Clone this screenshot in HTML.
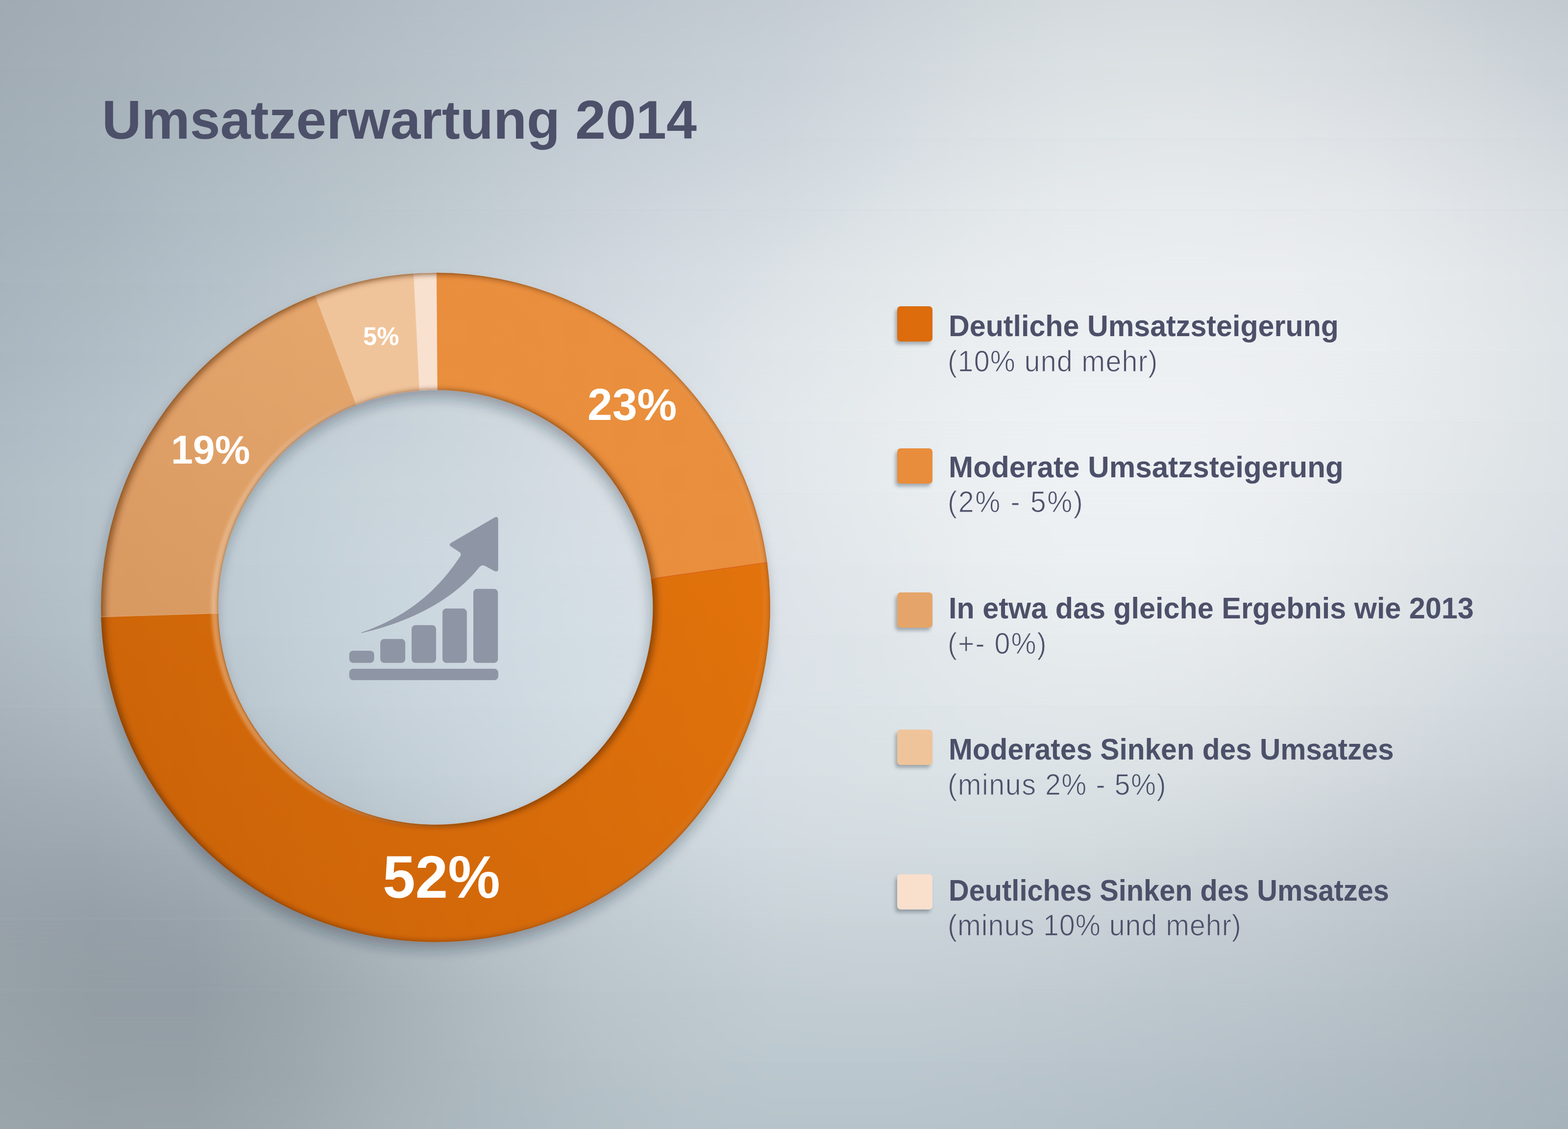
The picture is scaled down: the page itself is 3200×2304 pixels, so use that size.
<!DOCTYPE html>
<html><head><meta charset="utf-8">
<style>
html,body{margin:0;padding:0;}
body{width:3200px;height:2304px;overflow:hidden;position:relative;font-family:"Liberation Sans",Arial,sans-serif;background:#b8c3cb;}
#bg{position:absolute;left:0;top:0;width:3200px;height:2304px;overflow:hidden;filter:blur(1.5px);transform:scale(1.005);}
.bb{position:absolute;left:0;width:3200px;}.bm{-webkit-mask-image:linear-gradient(180deg,transparent,#000);mask-image:linear-gradient(180deg,transparent,#000);}
.t{position:absolute;white-space:pre;line-height:1;transform-origin:0 0;}
.sq{position:absolute;left:1831px;width:72px;height:72px;border-radius:7px;box-shadow:-4px 6px 7px rgba(50,62,75,0.36);}
</style></head><body>
<div id="bg"><div class="bb" style="top:0px;height:144px;background:linear-gradient(90deg,#9faab3 0.00%,#a3aeb6 6.25%,#a8b3bb 12.50%,#adb7bf 18.75%,#b2bcc4 25.00%,#b7c1c9 31.25%,#bbc5cd 37.50%,#c0c8d0 43.75%,#c4ccd3 50.00%,#cad2d8 56.25%,#d0d7db 62.50%,#d4dade 68.75%,#d5dbde 75.00%,#d3d9dd 81.25%,#cfd5d9 87.50%,#c8cfd4 93.75%,#c2cad0 100.00%)"></div>
<div class="bb bm" style="top:0px;height:144px;background:linear-gradient(90deg,#a1acb5 0.00%,#a5b0b8 6.25%,#aab5bd 12.50%,#afbac2 18.75%,#b5bfc7 25.00%,#bac4cc 31.25%,#c0c9d0 37.50%,#c4cdd4 43.75%,#c9d1d8 50.00%,#d0d7dc 56.25%,#d6dce0 62.50%,#dae0e3 68.75%,#dce1e4 75.00%,#dadfe3 81.25%,#d6dbdf 87.50%,#d0d6da 93.75%,#c9d0d6 100.00%)"></div>
<div class="bb" style="top:144px;height:144px;background:linear-gradient(90deg,#a1acb5 0.00%,#a5b0b8 6.25%,#aab5bd 12.50%,#afbac2 18.75%,#b5bfc7 25.00%,#bac4cc 31.25%,#c0c9d0 37.50%,#c4cdd4 43.75%,#c9d1d8 50.00%,#d0d7dc 56.25%,#d6dce0 62.50%,#dae0e3 68.75%,#dce1e4 75.00%,#dadfe3 81.25%,#d6dbdf 87.50%,#d0d6da 93.75%,#c9d0d6 100.00%)"></div>
<div class="bb bm" style="top:144px;height:144px;background:linear-gradient(90deg,#a3afb7 0.00%,#a7b3bb 6.25%,#acb8c0 12.50%,#b2bdc5 18.75%,#b7c2c9 25.00%,#bec8cf 31.25%,#c4cdd5 37.50%,#c9d2d9 43.75%,#ced6dc 50.00%,#d5dce1 56.25%,#dce1e5 62.50%,#e0e5e8 68.75%,#e2e6e9 75.00%,#e1e5e8 81.25%,#dee2e6 87.50%,#d8dde1 93.75%,#d1d7dc 100.00%)"></div>
<div class="bb" style="top:288px;height:144px;background:linear-gradient(90deg,#a3afb7 0.00%,#a7b3bb 6.25%,#acb8c0 12.50%,#b2bdc5 18.75%,#b7c2c9 25.00%,#bec8cf 31.25%,#c4cdd5 37.50%,#c9d2d9 43.75%,#ced6dc 50.00%,#d5dce1 56.25%,#dce1e5 62.50%,#e0e5e8 68.75%,#e2e6e9 75.00%,#e1e5e8 81.25%,#dee2e6 87.50%,#d8dde1 93.75%,#d1d7dc 100.00%)"></div>
<div class="bb bm" style="top:288px;height:144px;background:linear-gradient(90deg,#a5b1ba 0.00%,#a9b5be 6.25%,#b0bcc4 12.50%,#b5c1c8 18.75%,#bbc6cd 25.00%,#c2ccd3 31.25%,#cad2d9 37.50%,#d0d7dd 43.75%,#d5dce1 50.00%,#dce2e6 56.25%,#e2e7ea 62.50%,#e6eaec 68.75%,#e7ebee 75.00%,#e7eaed 81.25%,#e5e8eb 87.50%,#dfe3e7 93.75%,#d9dee2 100.00%)"></div>
<div class="bb" style="top:432px;height:144px;background:linear-gradient(90deg,#a5b1ba 0.00%,#a9b5be 6.25%,#b0bcc4 12.50%,#b5c1c8 18.75%,#bbc6cd 25.00%,#c2ccd3 31.25%,#cad2d9 37.50%,#d0d7dd 43.75%,#d5dce1 50.00%,#dce2e6 56.25%,#e2e7ea 62.50%,#e6eaec 68.75%,#e7ebee 75.00%,#e7eaed 81.25%,#e5e8eb 87.50%,#dfe3e7 93.75%,#d9dee2 100.00%)"></div>
<div class="bb bm" style="top:432px;height:144px;background:linear-gradient(90deg,#a8b4bd 0.00%,#adb9c1 6.25%,#b3bfc8 12.50%,#bac5cd 18.75%,#c0cbd2 25.00%,#c7d0d7 31.25%,#cfd7dd 37.50%,#d5dce2 43.75%,#dce2e6 50.00%,#e2e7ea 56.25%,#e7ebee 62.50%,#eaedf0 68.75%,#ebeef1 75.00%,#ebeef0 81.25%,#e8ecee 87.50%,#e3e7ea 93.75%,#dde2e6 100.00%)"></div>
<div class="bb" style="top:576px;height:144px;background:linear-gradient(90deg,#a8b4bd 0.00%,#adb9c1 6.25%,#b3bfc8 12.50%,#bac5cd 18.75%,#c0cbd2 25.00%,#c7d0d7 31.25%,#cfd7dd 37.50%,#d5dce2 43.75%,#dce2e6 50.00%,#e2e7ea 56.25%,#e7ebee 62.50%,#eaedf0 68.75%,#ebeef1 75.00%,#ebeef0 81.25%,#e8ecee 87.50%,#e3e7ea 93.75%,#dde2e6 100.00%)"></div>
<div class="bb bm" style="top:576px;height:144px;background:linear-gradient(90deg,#aab6bf 0.00%,#b0bcc5 6.25%,#b7c3cb 12.50%,#bec9d1 18.75%,#c4ced5 25.00%,#cbd4db 31.25%,#d3dae1 37.50%,#d9e0e5 43.75%,#e0e5e9 50.00%,#e5eaed 56.25%,#eaeef0 62.50%,#ecf0f2 68.75%,#edf0f3 75.00%,#eceff2 81.25%,#e9edef 87.50%,#e4e8eb 93.75%,#dde3e6 100.00%)"></div>
<div class="bb" style="top:720px;height:144px;background:linear-gradient(90deg,#aab6bf 0.00%,#b0bcc5 6.25%,#b7c3cb 12.50%,#bec9d1 18.75%,#c4ced5 25.00%,#cbd4db 31.25%,#d3dae1 37.50%,#d9e0e5 43.75%,#e0e5e9 50.00%,#e5eaed 56.25%,#eaeef0 62.50%,#ecf0f2 68.75%,#edf0f3 75.00%,#eceff2 81.25%,#e9edef 87.50%,#e4e8eb 93.75%,#dde3e6 100.00%)"></div>
<div class="bb bm" style="top:720px;height:144px;background:linear-gradient(90deg,#aebac3 0.00%,#b4c0c9 6.25%,#bbc7cf 12.50%,#c1cdd5 18.75%,#c7d1d9 25.00%,#cdd7dd 31.25%,#d5dde3 37.50%,#dbe2e7 43.75%,#e1e7eb 50.00%,#e7ebee 56.25%,#ebeff1 62.50%,#edf1f3 68.75%,#eef1f3 75.00%,#eceff2 81.25%,#e8ecef 87.50%,#e3e7ea 93.75%,#dce2e5 100.00%)"></div>
<div class="bb" style="top:864px;height:144px;background:linear-gradient(90deg,#aebac3 0.00%,#b4c0c9 6.25%,#bbc7cf 12.50%,#c1cdd5 18.75%,#c7d1d9 25.00%,#cdd7dd 31.25%,#d5dde3 37.50%,#dbe2e7 43.75%,#e1e7eb 50.00%,#e7ebee 56.25%,#ebeff1 62.50%,#edf1f3 68.75%,#eef1f3 75.00%,#eceff2 81.25%,#e8ecef 87.50%,#e3e7ea 93.75%,#dce2e5 100.00%)"></div>
<div class="bb bm" style="top:864px;height:144px;background:linear-gradient(90deg,#b1bdc5 0.00%,#b7c3cb 6.25%,#bdcad2 12.50%,#c4d0d7 18.75%,#c9d4db 25.00%,#cfd8df 31.25%,#d6dee4 37.50%,#dbe2e8 43.75%,#e0e6ea 50.00%,#e6ebee 56.25%,#ebeff1 62.50%,#edf1f3 68.75%,#edf1f4 75.00%,#ebeef1 81.25%,#e6eaed 87.50%,#e0e5e8 93.75%,#dae0e4 100.00%)"></div>
<div class="bb" style="top:1008px;height:144px;background:linear-gradient(90deg,#b1bdc5 0.00%,#b7c3cb 6.25%,#bdcad2 12.50%,#c4d0d7 18.75%,#c9d4db 25.00%,#cfd8df 31.25%,#d6dee4 37.50%,#dbe2e8 43.75%,#e0e6ea 50.00%,#e6ebee 56.25%,#ebeff1 62.50%,#edf1f3 68.75%,#edf1f4 75.00%,#ebeef1 81.25%,#e6eaed 87.50%,#e0e5e8 93.75%,#dae0e4 100.00%)"></div>
<div class="bb bm" style="top:1008px;height:144px;background:linear-gradient(90deg,#b1bcc5 0.00%,#b7c3cb 6.25%,#becad2 12.50%,#c4d0d8 18.75%,#cad5dd 25.00%,#cfd9e1 31.25%,#d5dee4 37.50%,#dae1e7 43.75%,#dee4e9 50.00%,#e3e8ec 56.25%,#e9edf0 62.50%,#ebeff1 68.75%,#ebeff2 75.00%,#e8ecef 81.25%,#e3e7ea 87.50%,#dde2e6 93.75%,#d7dde2 100.00%)"></div>
<div class="bb" style="top:1152px;height:144px;background:linear-gradient(90deg,#b1bcc5 0.00%,#b7c3cb 6.25%,#becad2 12.50%,#c4d0d8 18.75%,#cad5dd 25.00%,#cfd9e1 31.25%,#d5dee4 37.50%,#dae1e7 43.75%,#dee4e9 50.00%,#e3e8ec 56.25%,#e9edf0 62.50%,#ebeff1 68.75%,#ebeff2 75.00%,#e8ecef 81.25%,#e3e7ea 87.50%,#dde2e6 93.75%,#d7dde2 100.00%)"></div>
<div class="bb bm" style="top:1152px;height:144px;background:linear-gradient(90deg,#aeb9c2 0.00%,#b4c0c8 6.25%,#bbc7d0 12.50%,#c3cfd7 18.75%,#c9d5dd 25.00%,#cfd9e1 31.25%,#d3dde4 37.50%,#d8e0e6 43.75%,#dce2e7 50.00%,#dfe5e9 56.25%,#e5eaed 62.50%,#e7ecee 68.75%,#e7ebed 75.00%,#e4e8eb 81.25%,#dfe4e7 87.50%,#d9dfe3 93.75%,#d3d9df 100.00%)"></div>
<div class="bb" style="top:1296px;height:144px;background:linear-gradient(90deg,#aeb9c2 0.00%,#b4c0c8 6.25%,#bbc7d0 12.50%,#c3cfd7 18.75%,#c9d5dd 25.00%,#cfd9e1 31.25%,#d3dde4 37.50%,#d8e0e6 43.75%,#dce2e7 50.00%,#dfe5e9 56.25%,#e5eaed 62.50%,#e7ecee 68.75%,#e7ebed 75.00%,#e4e8eb 81.25%,#dfe4e7 87.50%,#d9dfe3 93.75%,#d3d9df 100.00%)"></div>
<div class="bb bm" style="top:1296px;height:144px;background:linear-gradient(90deg,#a8b3bc 0.00%,#aeb9c1 6.25%,#b6c2ca 12.50%,#c0ccd4 18.75%,#c7d2da 25.00%,#ccd7df 31.25%,#d2dce3 37.50%,#d6dfe5 43.75%,#dbe2e7 50.00%,#dde4e8 56.25%,#e0e6e9 62.50%,#e2e7ea 68.75%,#e1e6e8 75.00%,#dee3e6 81.25%,#d9dee2 87.50%,#d3dadf 93.75%,#ced5da 100.00%)"></div>
<div class="bb" style="top:1440px;height:144px;background:linear-gradient(90deg,#a8b3bc 0.00%,#aeb9c1 6.25%,#b6c2ca 12.50%,#c0ccd4 18.75%,#c7d2da 25.00%,#ccd7df 31.25%,#d2dce3 37.50%,#d6dfe5 43.75%,#dbe2e7 50.00%,#dde4e8 56.25%,#e0e6e9 62.50%,#e2e7ea 68.75%,#e1e6e8 75.00%,#dee3e6 81.25%,#d9dee2 87.50%,#d3dadf 93.75%,#ced5da 100.00%)"></div>
<div class="bb bm" style="top:1440px;height:144px;background:linear-gradient(90deg,#a2acb4 0.00%,#a5b0b8 6.25%,#adb8c0 12.50%,#b7c3cc 18.75%,#c1cdd5 25.00%,#c8d3db 31.25%,#cdd8df 37.50%,#d2dce2 43.75%,#d7dfe4 50.00%,#d9e1e5 56.25%,#dbe2e6 62.50%,#dbe2e5 68.75%,#dae0e3 75.00%,#d6dce0 81.25%,#d1d7dc 87.50%,#cbd3d8 93.75%,#c6ced4 100.00%)"></div>
<div class="bb" style="top:1584px;height:144px;background:linear-gradient(90deg,#a2acb4 0.00%,#a5b0b8 6.25%,#adb8c0 12.50%,#b7c3cc 18.75%,#c1cdd5 25.00%,#c8d3db 31.25%,#cdd8df 37.50%,#d2dce2 43.75%,#d7dfe4 50.00%,#d9e1e5 56.25%,#dbe2e6 62.50%,#dbe2e5 68.75%,#dae0e3 75.00%,#d6dce0 81.25%,#d1d7dc 87.50%,#cbd3d8 93.75%,#c6ced4 100.00%)"></div>
<div class="bb bm" style="top:1584px;height:144px;background:linear-gradient(90deg,#9ba6ae 0.00%,#9ca7af 6.25%,#a1acb4 12.50%,#acb7bf 18.75%,#b8c3ca 25.00%,#c0cbd3 31.25%,#c6d1d8 37.50%,#ccd6dc 43.75%,#d1dadf 50.00%,#d3dbe0 56.25%,#d3dce0 62.50%,#d3dbde 68.75%,#d1d8dc 75.00%,#cdd4d9 81.25%,#c7cfd4 87.50%,#c2cbd0 93.75%,#bcc6cc 100.00%)"></div>
<div class="bb" style="top:1728px;height:144px;background:linear-gradient(90deg,#9ba6ae 0.00%,#9ca7af 6.25%,#a1acb4 12.50%,#acb7bf 18.75%,#b8c3ca 25.00%,#c0cbd3 31.25%,#c6d1d8 37.50%,#ccd6dc 43.75%,#d1dadf 50.00%,#d3dbe0 56.25%,#d3dce0 62.50%,#d3dbde 68.75%,#d1d8dc 75.00%,#cdd4d9 81.25%,#c7cfd4 87.50%,#c2cbd0 93.75%,#bcc6cc 100.00%)"></div>
<div class="bb bm" style="top:1728px;height:144px;background:linear-gradient(90deg,#97a1a9 0.00%,#959fa7 6.25%,#97a2aa 12.50%,#a0abb2 18.75%,#acb7be 25.00%,#b7c2c9 31.25%,#bfc9d0 37.50%,#c4ced5 43.75%,#c9d3d8 50.00%,#cad4d9 56.25%,#cad3d9 62.50%,#c9d2d7 68.75%,#c6cfd5 75.00%,#c3ccd2 81.25%,#bec7ce 87.50%,#b9c3c9 93.75%,#b3bec4 100.00%)"></div>
<div class="bb" style="top:1872px;height:144px;background:linear-gradient(90deg,#97a1a9 0.00%,#959fa7 6.25%,#97a2aa 12.50%,#a0abb2 18.75%,#acb7be 25.00%,#b7c2c9 31.25%,#bfc9d0 37.50%,#c4ced5 43.75%,#c9d3d8 50.00%,#cad4d9 56.25%,#cad3d9 62.50%,#c9d2d7 68.75%,#c6cfd5 75.00%,#c3ccd2 81.25%,#bec7ce 87.50%,#b9c3c9 93.75%,#b3bec4 100.00%)"></div>
<div class="bb bm" style="top:1872px;height:144px;background:linear-gradient(90deg,#97a1a8 0.00%,#939da4 6.25%,#939da5 12.50%,#9aa5ac 18.75%,#a6b0b7 25.00%,#b0bbc2 31.25%,#b9c4cb 37.50%,#bec8cf 43.75%,#c2ccd3 50.00%,#c3cdd3 56.25%,#c2ccd2 62.50%,#c0cad0 68.75%,#bdc7ce 75.00%,#bbc5cc 81.25%,#b7c1c8 87.50%,#b2bcc3 93.75%,#acb7bf 100.00%)"></div>
<div class="bb" style="top:2016px;height:144px;background:linear-gradient(90deg,#97a1a8 0.00%,#939da4 6.25%,#939da5 12.50%,#9aa5ac 18.75%,#a6b0b7 25.00%,#b0bbc2 31.25%,#b9c4cb 37.50%,#bec8cf 43.75%,#c2ccd3 50.00%,#c3cdd3 56.25%,#c2ccd2 62.50%,#c0cad0 68.75%,#bdc7ce 75.00%,#bbc5cc 81.25%,#b7c1c8 87.50%,#b2bcc3 93.75%,#acb7bf 100.00%)"></div>
<div class="bb bm" style="top:2016px;height:144px;background:linear-gradient(90deg,#98a2a9 0.00%,#959fa6 6.25%,#959fa6 12.50%,#9ca6ad 18.75%,#a6b0b7 25.00%,#aeb9c0 31.25%,#b5c0c7 37.50%,#bac5cc 43.75%,#bcc8cf 50.00%,#bcc8cf 56.25%,#bbc6ce 62.50%,#b9c4cc 68.75%,#b7c2ca 75.00%,#b4bfc8 81.25%,#b1bcc4 87.50%,#adb8c0 93.75%,#a9b4bc 100.00%)"></div>
<div class="bb" style="top:2160px;height:144px;background:linear-gradient(90deg,#98a2a9 0.00%,#959fa6 6.25%,#959fa6 12.50%,#9ca6ad 18.75%,#a6b0b7 25.00%,#aeb9c0 31.25%,#b5c0c7 37.50%,#bac5cc 43.75%,#bcc8cf 50.00%,#bcc8cf 56.25%,#bbc6ce 62.50%,#b9c4cc 68.75%,#b7c2ca 75.00%,#b4bfc8 81.25%,#b1bcc4 87.50%,#adb8c0 93.75%,#a9b4bc 100.00%)"></div>
<div class="bb bm" style="top:2160px;height:144px;background:linear-gradient(90deg,#9aa4ab 0.00%,#98a2a9 6.25%,#99a3aa 12.50%,#9fa9b0 18.75%,#a7b2b9 25.00%,#adb9c0 31.25%,#b2bec5 37.50%,#b6c2c9 43.75%,#b7c3ca 50.00%,#b7c3cb 56.25%,#b6c2ca 62.50%,#b4c0c8 68.75%,#b1bec6 75.00%,#afbbc4 81.25%,#acb8c0 87.50%,#a9b5bd 93.75%,#a6b2ba 100.00%)"></div></div>
<svg width="3200" height="2304" style="position:absolute;left:0;top:0">
<defs>
 <linearGradient id="g52" gradientUnits="userSpaceOnUse" x1="1500" y1="1050" x2="400" y2="1800">
  <stop offset="0" stop-color="#e2730c"/><stop offset="1" stop-color="#cc6408"/>
 </linearGradient>
 <linearGradient id="g23" gradientUnits="userSpaceOnUse" x1="1500" y1="700" x2="900" y2="1100">
  <stop offset="0" stop-color="#e98f3d"/><stop offset="1" stop-color="#e88e3c"/>
 </linearGradient>
 <linearGradient id="g19" gradientUnits="userSpaceOnUse" x1="700" y1="600" x2="250" y2="1200">
  <stop offset="0" stop-color="#e6a76d"/><stop offset="1" stop-color="#d99a62"/>
 </linearGradient>
 <filter id="drop" x="-10%" y="-10%" width="120%" height="125%">
  <feGaussianBlur in="SourceAlpha" stdDeviation="12"/>
  <feOffset dx="-4" dy="17" result="b"/>
  <feFlood flood-color="#1c2834" flood-opacity="0.3"/>
  <feComposite in2="b" operator="in"/>
 </filter>
 <filter id="edge" x="-5%" y="-5%" width="110%" height="110%">
  <feGaussianBlur in="SourceAlpha" stdDeviation="5.5" result="b"/>
  <feComposite in="SourceAlpha" in2="b" operator="out" result="e"/>
  <feFlood flood-color="#5c2a00" flood-opacity="0.55"/>
  <feComposite in2="e" operator="in"/>
 </filter>
 <filter id="dsh" x="-5%" y="-5%" width="110%" height="110%">
  <feGaussianBlur in="SourceAlpha" stdDeviation="6" result="b"/>
  <feOffset in="b" dx="10" dy="3" result="o"/>
  <feComposite in="SourceAlpha" in2="o" operator="out" result="e"/>
  <feFlood flood-color="#5c2a00" flood-opacity="0.4"/>
  <feComposite in2="e" operator="in"/>
 </filter>
 <filter id="hilite" x="-5%" y="-5%" width="110%" height="110%">
  <feGaussianBlur in="SourceAlpha" stdDeviation="3" result="b"/>
  <feOffset in="b" dx="-13" dy="0" result="o"/>
  <feComposite in="SourceAlpha" in2="o" operator="out" result="e"/>
  <feGaussianBlur in="e" stdDeviation="1.5" result="e2"/>
  <feComposite in="e2" in2="SourceAlpha" operator="in" result="e3"/>
  <feFlood flood-color="#ffe0c0" flood-opacity="0.45"/>
  <feComposite in2="e3" operator="in"/>
 </filter>
 <mask id="outerMask" maskUnits="userSpaceOnUse" x="0" y="0" width="3200" height="2304">
  <rect x="0" y="0" width="3200" height="2304" fill="#fff"/><circle cx="888.85" cy="1239.5" r="488.8" fill="#000"/>
 </mask>
 <mask id="innerMask" maskUnits="userSpaceOnUse" x="0" y="0" width="3200" height="2304">
  <circle cx="888.85" cy="1239.5" r="488.8" fill="#fff"/>
 </mask>
</defs>
<path d="M206.10000000000002,1239.5 a682.75,682.75 0 1,0 1365.5,0 a682.75,682.75 0 1,0 -1365.5,0 Z M445.05,1239.5 a443.8,443.8 0 1,1 887.6,0 a443.8,443.8 0 1,1 -887.6,0 Z" fill="#000" fill-rule="evenodd" filter="url(#drop)"/>
<path d="M890.64,556.75 A682.75,682.75 0 0,1 1565.41,1147.78 L1328.79,1181.11 A443.8,443.8 0 0,0 892.34,795.71 Z" fill="url(#g23)" stroke="url(#g23)" stroke-width="0.6"/>
<path d="M1565.41,1147.78 A682.75,682.75 0 1,1 206.38,1258.92 L445.21,1251.58 A443.8,443.8 0 1,0 1328.79,1181.11 Z" fill="url(#g52)" stroke="url(#g52)" stroke-width="0.6"/>
<path d="M206.38,1258.92 A682.75,682.75 0 0,1 642.95,602.57 L726.99,826.27 A443.8,443.8 0 0,0 445.21,1251.58 Z" fill="url(#g19)" stroke="url(#g19)" stroke-width="0.6"/>
<path d="M642.95,602.57 A682.75,682.75 0 0,1 844.20,558.21 L856.19,796.90 A443.8,443.8 0 0,0 726.99,826.27 Z" fill="#f0c49a" stroke="#f0c49a" stroke-width="0.6"/>
<path d="M844.20,558.21 A682.75,682.75 0 0,1 890.64,556.75 L892.34,795.71 A443.8,443.8 0 0,0 856.19,796.90 Z" fill="#f8e1cf" stroke="#f8e1cf" stroke-width="0.6"/>
<path d="M206.10000000000002,1239.5 a682.75,682.75 0 1,0 1365.5,0 a682.75,682.75 0 1,0 -1365.5,0 Z M445.05,1239.5 a443.8,443.8 0 1,1 887.6,0 a443.8,443.8 0 1,1 -887.6,0 Z" fill="#000" fill-rule="evenodd" filter="url(#hilite)" mask="url(#innerMask)"/>
<path d="M206.10000000000002,1239.5 a682.75,682.75 0 1,0 1365.5,0 a682.75,682.75 0 1,0 -1365.5,0 Z M445.05,1239.5 a443.8,443.8 0 1,1 887.6,0 a443.8,443.8 0 1,1 -887.6,0 Z" fill="#000" fill-rule="evenodd" filter="url(#hilite)" mask="url(#outerMask)" opacity="0.2"/>
<path d="M206.10000000000002,1239.5 a682.75,682.75 0 1,0 1365.5,0 a682.75,682.75 0 1,0 -1365.5,0 Z M445.05,1239.5 a443.8,443.8 0 1,1 887.6,0 a443.8,443.8 0 1,1 -887.6,0 Z" fill="#000" fill-rule="evenodd" filter="url(#dsh)"/>
<path d="M206.10000000000002,1239.5 a682.75,682.75 0 1,0 1365.5,0 a682.75,682.75 0 1,0 -1365.5,0 Z M445.05,1239.5 a443.8,443.8 0 1,1 887.6,0 a443.8,443.8 0 1,1 -887.6,0 Z" fill="#000" fill-rule="evenodd" filter="url(#edge)"/>
<line x1="1328.79" y1="1181.11" x2="1565.41" y2="1147.78" stroke="#d8561c" stroke-width="1.3" opacity="0.8"/>
<line x1="445.21" y1="1251.58" x2="206.38" y2="1258.92" stroke="#f3c9a0" stroke-width="1.1" opacity="0.35"/>
<g fill="#8e95a5">
 <rect x="712.7" y="1364.8" width="304.2" height="23.2" rx="8"/>
 <rect x="712.7" y="1327.9" width="50.9" height="24.9" rx="8"/>
 <rect x="776.1" y="1304.1" width="51" height="48.7" rx="8"/>
 <rect x="840" y="1275.8" width="50" height="77" rx="8"/>
 <rect x="903" y="1241.8" width="49.8" height="111" rx="8"/>
 <rect x="966" y="1201.7" width="50.2" height="151.1" rx="8"/>
 <path transform="translate(690,1030) scale(0.22655)" d="M205,1152 C500,1052 835,872 1100,465 Q1115,440 1090,425 L1015,375 Q995,360 1015,345 L1410,115 Q1440,100 1442,135 L1442,580 Q1440,610 1410,598 L1320,550 Q1295,540 1275,560 C1072,818 722,1038 215,1155 Z"/>
</g>
</svg>
<div class="sq" style="top:625px;background:#dc6c0c"></div><div class="sq" style="top:915px;background:#e88d3c"></div><div class="sq" style="top:1209px;background:#e5a56a"></div><div class="sq" style="top:1489px;background:#f0c49a"></div><div class="sq" style="top:1784px;background:#f8e0cd"></div>
<div class="t" style="left:207.5px;top:189.8px;font-size:111px;font-weight:bold;color:#4d5069;transform:scaleX(1.0040)">Umsatzerwartung 2014</div>
<div class="t" style="left:1935.8px;top:634.6px;font-size:61px;font-weight:bold;color:#4d5069;transform:scaleX(0.9704)">Deutliche Umsatzsteigerung</div>
<div class="t" style="left:1935.7px;top:922.6px;font-size:61px;font-weight:bold;color:#4d5069;transform:scaleX(0.9865)">Moderate Umsatzsteigerung</div>
<div class="t" style="left:1935.8px;top:1210.5px;font-size:61px;font-weight:bold;color:#4d5069;transform:scaleX(0.9728)">In etwa das gleiche Ergebnis wie 2013</div>
<div class="t" style="left:1935.8px;top:1498.9px;font-size:61px;font-weight:bold;color:#4d5069;transform:scaleX(0.9605)">Moderates Sinken des Umsatzes</div>
<div class="t" style="left:1935.9px;top:1786.6px;font-size:61px;font-weight:bold;color:#4d5069;transform:scaleX(0.9469)">Deutliches Sinken des Umsatzes</div>
<div class="t" style="left:1933.8px;top:706.6px;font-size:61px;font-weight:normal;color:#4d5069;transform:scaleX(0.9400);letter-spacing:1.41px;-webkit-text-stroke:1.1px #eaeef1">(10% und mehr)</div>
<div class="t" style="left:1933.8px;top:994.4px;font-size:61px;font-weight:normal;color:#4d5069;transform:scaleX(0.9400);letter-spacing:2.80px;-webkit-text-stroke:1.1px #eaeef1">(2% - 5%)</div>
<div class="t" style="left:1933.8px;top:1283.1px;font-size:61px;font-weight:normal;color:#4d5069;transform:scaleX(0.9400);letter-spacing:2.12px;-webkit-text-stroke:1.1px #e4e9ec">(+- 0%)</div>
<div class="t" style="left:1933.8px;top:1570.5px;font-size:61px;font-weight:normal;color:#4d5069;transform:scaleX(0.9400);letter-spacing:1.66px;-webkit-text-stroke:1.1px #d9e0e4">(minus 2% - 5%)</div>
<div class="t" style="left:1933.8px;top:1858.2px;font-size:61px;font-weight:normal;color:#4d5069;transform:scaleX(0.9400);letter-spacing:1.06px;-webkit-text-stroke:1.1px #c9d2d8">(minus 10% und mehr)</div>
<div class="t" style="left:781.3px;top:1730.1px;font-size:121.7px;font-weight:bold;color:#ffffff;transform:scaleX(0.9840)">52%</div>
<div class="t" style="left:1199.0px;top:779.7px;font-size:91.6px;font-weight:bold;color:#ffffff;transform:scaleX(0.9940)">23%</div>
<div class="t" style="left:349.3px;top:877.2px;font-size:81.4px;font-weight:bold;color:#ffffff;transform:scaleX(0.9900)">19%</div>
<div class="t" style="left:740.7px;top:660.9px;font-size:51.3px;font-weight:bold;color:#ffffff;transform:scaleX(0.9900)">5%</div>
</body></html>
